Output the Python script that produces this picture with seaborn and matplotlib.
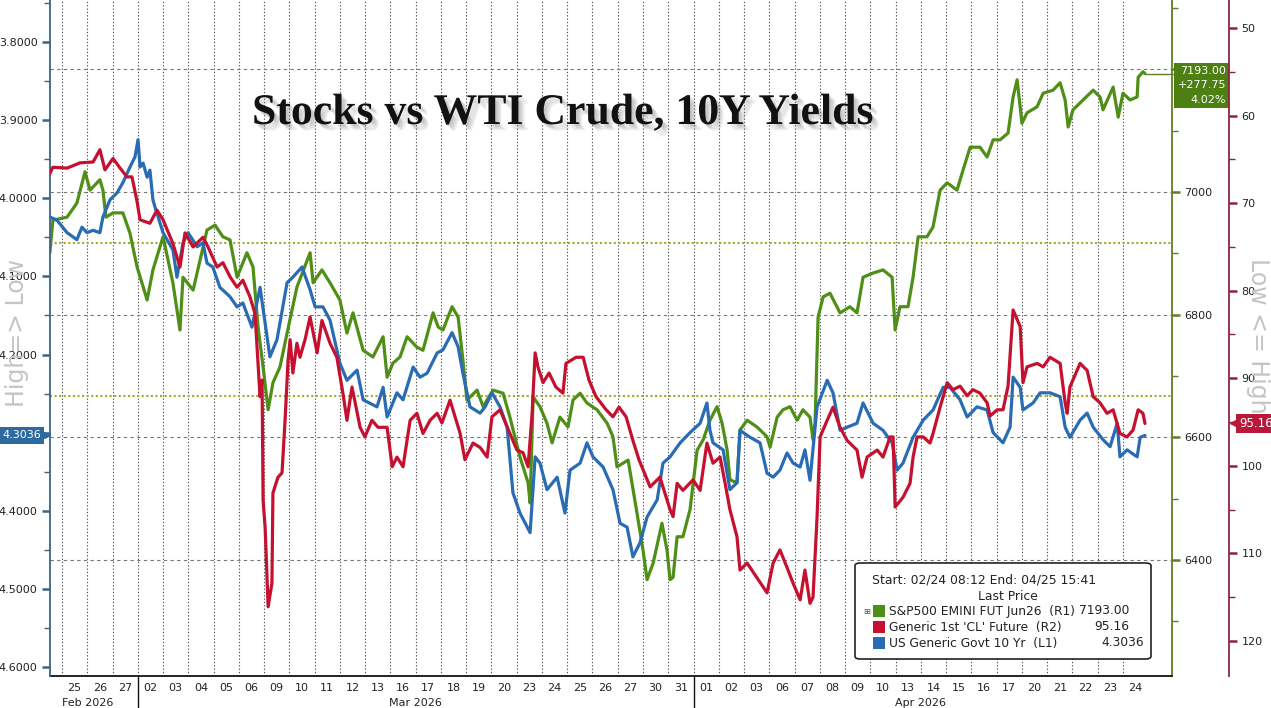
import numpy as np
import matplotlib
matplotlib.use("Agg")
import matplotlib.pyplot as plt
import matplotlib.patheffects as pe
import matplotlib.transforms as mtrans
from matplotlib.patches import FancyBboxPatch, Rectangle
from matplotlib.ticker import MultipleLocator, FuncFormatter
import seaborn as sns

# --- sessions on the x axis (index 0 = Feb 25; Feb 24 is a partial first session at index -1) ---
day_labels = ["25", "26", "27",
              "02", "03", "04", "05", "06", "09", "10", "11", "12", "13", "16", "17", "18", "19", "20",
              "23", "24", "25", "26", "27", "30", "31",
              "01", "02", "03", "06", "07", "08", "09", "10", "13", "14", "15", "16", "17", "20", "21",
              "22", "23", "24"]
month_names = ["Feb 2026", "Mar 2026", "Apr 2026"]
month_first = [-1, 3, 25]
month_last = [2, 24, 42]

# --- S&P500 EMINI FUT Jun26 (R1) ---
sp_t = [-0.48, -0.36, 0.2, 0.59, 0.91, 1.11, 1.5, 1.62, 1.74, 2.02, 2.41, 2.69, 2.97, 3.37, 3.6, 4.0,
        4.39, 4.67, 4.79, 5.19, 5.74, 6.06, 6.37, 6.65, 6.93, 7.32, 7.56, 7.76, 7.96, 8.16, 8.35, 8.63,
        8.91, 9.3, 9.82, 9.94, 10.29, 10.61, 11.0, 11.28, 11.52, 11.92, 12.31, 12.71, 12.87, 13.1, 13.38,
        13.66, 14.05, 14.29, 14.69, 14.89, 15.08, 15.44, 15.68, 15.87, 16.03, 16.43, 16.67, 17.06, 17.46,
        17.73, 18.13, 18.45, 18.53, 18.65, 18.92, 19.2, 19.4, 19.71, 20.03, 20.23, 20.51, 20.78, 21.18,
        21.58, 21.81, 21.97, 22.21, 22.41, 22.76, 23.0, 23.16, 23.4, 23.75, 23.95, 24.07, 24.19, 24.35,
        24.58, 24.86, 25.14, 25.38, 25.65, 25.93, 26.13, 26.33, 26.44, 26.72, 26.84, 27.12, 27.51, 27.91,
        28.03, 28.31, 28.54, 28.82, 29.1, 29.33, 29.61, 29.73, 29.81, 29.93, 30.13, 30.4, 30.8, 31.19,
        31.47, 31.71, 32.11, 32.5, 32.86, 32.98, 33.17, 33.49, 33.69, 33.89, 34.24, 34.48, 34.76, 35.04,
        35.43, 35.67, 35.95, 36.34, 36.62, 36.86, 37.13, 37.45, 37.65, 37.81, 38.0, 38.2, 38.6, 38.84,
        39.23, 39.51, 39.71, 39.83, 40.02, 40.42, 40.82, 41.09, 41.21, 41.61, 41.81, 42.0, 42.28, 42.56,
        42.6, 42.79, 42.87]
sp_val = [6901, 6954, 6959, 6982, 7033, 7003, 7020, 7003, 6959, 6966, 6966, 6933, 6878, 6824, 6873, 6927,
          6852, 6775, 6861, 6840, 6938, 6946, 6927, 6922, 6861, 6901, 6878, 6780, 6715, 6645, 6689, 6715,
          6770, 6845, 6901, 6852, 6873, 6852, 6824, 6770, 6803, 6742, 6731, 6764, 6698, 6721, 6731,
          6764, 6747, 6742, 6803, 6780, 6775, 6813, 6796, 6726, 6661, 6677, 6650, 6677, 6672,
          6633, 6568, 6526, 6493, 6666, 6650, 6623, 6591, 6633, 6617, 6661, 6672, 6656, 6645,
          6623, 6601, 6552, 6558, 6563, 6477, 6416, 6368, 6395, 6460, 6416, 6368, 6372, 6438,
          6438, 6482, 6579, 6596, 6628, 6650, 6623, 6579, 6531, 6526, 6612, 6628, 6617, 6601,
          6584, 6633, 6645, 6650, 6628, 6645, 6633, 6596, 6623, 6796, 6829, 6835, 6803, 6813,
          6803, 6861, 6868, 6873, 6861, 6775, 6813, 6813, 6861, 6927, 6927, 6943, 7003, 7015,
          7003, 7036, 7073, 7073, 7057, 7085, 7085, 7096, 7155, 7183, 7112, 7129, 7139, 7161,
          7166, 7178, 7150, 7106, 7134, 7150, 7166, 7155, 7134, 7171, 7122, 7161, 7150, 7155,
          7187, 7196, 7193]
sp_change = "+277.75"
sp_change_pct = "4.02%"

# --- Generic 1st 'CL' Future (R2) ---
cl_t = [-0.48, -0.36, 0.2, 0.71, 1.23, 1.5, 1.7, 2.02, 2.3, 2.57, 2.77, 2.97, 3.09, 3.48, 3.76, 4.0,
        4.39, 4.67, 4.87, 5.19, 5.58, 5.78, 6.14, 6.37, 6.65, 6.93, 7.16, 7.44, 7.64, 7.84, 7.92, 7.96,
        8.04, 8.16, 8.31, 8.35, 8.55, 8.71, 8.83, 8.95, 9.03, 9.14, 9.3, 9.42, 9.62, 9.82, 10.1, 10.29,
        10.61, 10.88, 11.12, 11.28, 11.48, 11.8, 11.99, 12.27, 12.51, 12.87, 13.07, 13.26, 13.5, 13.78,
        14.05, 14.29, 14.57, 14.85, 15.04, 15.36, 15.56, 15.76, 15.95, 16.27, 16.55, 16.83, 17.02, 17.34,
        17.73, 18.01, 18.25, 18.45, 18.61, 18.73, 18.84, 19.04, 19.28, 19.55, 19.83, 19.95, 20.35, 20.63,
        20.86, 21.14, 21.54, 21.81, 22.05, 22.33, 22.6, 22.84, 23.28, 23.67, 24.07, 24.19, 24.35, 24.58,
        24.98, 25.26, 25.53, 25.77, 26.05, 26.25, 26.44, 26.72, 26.84, 27.12, 27.91, 28.15, 28.42, 28.7,
        28.94, 29.22, 29.41, 29.61, 29.73, 29.89, 30.01, 30.29, 30.52, 30.8, 31.08, 31.47, 31.67, 31.87,
        32.27, 32.5, 32.78, 32.9, 32.98, 33.29, 33.57, 33.69, 33.85, 34.09, 34.36, 34.48, 34.76, 35.04,
        35.27, 35.55, 35.83, 36.06, 36.34, 36.62, 36.74, 37.02, 37.25, 37.45, 37.65, 37.93, 38.04, 38.2,
        38.6, 38.84, 39.11, 39.51, 39.71, 39.79, 39.9, 40.3, 40.58, 40.82, 41.09, 41.37, 41.61, 41.88,
        42.16, 42.4, 42.6, 42.79, 42.87]
cl_val = [66.6, 65.9, 66.0, 65.4, 65.3, 63.9, 66.2, 64.9, 66.0, 67.0, 67.0, 69.8, 71.9, 72.3, 70.8, 71.9,
          74.6, 77.3, 73.4, 75.0, 73.9, 75.0, 77.3, 76.8, 78.4, 79.6, 78.8, 80.7, 82.6, 92.1, 90.2, 103.9,
          107.0, 116.1, 113.4, 103.1, 101.3, 100.8, 94.8, 87.9, 85.6, 89.4, 86.0, 87.6, 85.6, 83.0, 87.1, 83.4,
          86.0, 87.6, 91.7, 94.8, 91.0, 95.6, 96.7, 94.8, 95.6, 95.6, 100.1, 99.0, 100.1, 94.8,
          94.0, 96.3, 94.8, 94.0, 95.1, 92.5, 94.4, 96.3, 99.3, 97.4, 97.9, 99.0, 94.4, 93.6,
          96.3, 98.2, 98.5, 100.1, 94.0, 87.1, 88.7, 90.5, 89.4, 91.0, 91.7, 88.3, 87.6, 87.6,
          90.2, 92.1, 93.6, 94.4, 93.3, 94.4, 97.1, 99.3, 102.4, 101.3, 105.0, 105.8, 102.0, 102.8,
          101.6, 102.8, 97.4, 99.7, 99.0, 102.0, 105.0, 108.1, 111.9, 111.1, 114.5, 111.1, 109.6, 111.6,
          113.4, 115.3, 111.9, 115.7, 115.0, 105.8, 96.7, 94.8, 93.3, 95.6, 97.1, 98.2, 101.3, 99.0,
          98.2, 99.0, 96.7, 96.7, 104.7, 103.6, 102.0, 99.0, 96.7, 96.7, 97.4, 96.3, 93.3, 90.5,
          91.3, 90.9, 92.0, 91.3, 91.7, 92.8, 94.3, 93.6, 93.6, 90.9, 82.2, 84.1, 90.5, 88.7,
          88.3, 88.7, 87.6, 88.3, 92.8, 94.0, 91.0, 88.3, 89.1, 92.1, 92.8, 94.0, 93.6, 96.3,
          96.7, 95.9, 93.6, 94.0, 95.16]

# --- US Generic Govt 10 Yr (L1) ---
ty_t = [-0.48, -0.2, 0.2, 0.59, 0.79, 0.99, 1.23, 1.5, 1.62, 1.9, 2.18, 2.41, 2.69, 2.89, 3.01, 3.09,
        3.21, 3.37, 3.48, 3.6, 3.68, 4.0, 4.39, 4.55, 4.79, 4.99, 5.35, 5.58, 5.74, 5.97, 6.25, 6.65,
        6.93, 7.16, 7.52, 7.84, 8.23, 8.51, 8.91, 9.14, 9.5, 9.82, 10.02, 10.33, 10.61, 11.0, 11.28,
        11.68, 11.92, 12.47, 12.71, 12.87, 13.26, 13.5, 13.9, 14.17, 14.45, 14.85, 15.08, 15.44, 15.68,
        15.87, 16.15, 16.55, 16.75, 17.02, 17.34, 17.62, 17.85, 18.13, 18.53, 18.73, 18.92, 19.2, 19.6,
        19.91, 20.11, 20.51, 20.78, 21.02, 21.42, 21.81, 22.09, 22.37, 22.6, 22.88, 23.16, 23.56, 23.79,
        24.07, 24.47, 24.86, 25.26, 25.53, 25.65, 25.77, 26.17, 26.44, 26.72, 26.84, 27.24, 27.63, 27.91,
        28.15, 28.42, 28.7, 28.94, 29.22, 29.41, 29.61, 29.89, 30.29, 30.52, 30.8, 31.08, 31.47, 31.71,
        32.11, 32.5, 32.86, 33.06, 33.29, 33.69, 34.09, 34.48, 34.88, 35.15, 35.55, 35.83, 36.22, 36.62,
        36.86, 37.25, 37.53, 37.65, 37.93, 38.04, 38.44, 38.72, 39.11, 39.51, 39.71, 39.9, 40.3, 40.58,
        40.82, 41.21, 41.49, 41.77, 41.88, 42.16, 42.56, 42.68, 42.87]
ty_val = [4.024, 4.028, 4.044, 4.053, 4.037, 4.044, 4.041, 4.044, 4.024, 4.002, 3.993, 3.980, 3.960, 3.947,
          3.925, 3.960, 3.955, 3.973, 3.964, 4.002, 4.011, 4.044, 4.066, 4.101, 4.057, 4.044, 4.062, 4.057,
          4.083, 4.088, 4.114, 4.126, 4.139, 4.134, 4.165, 4.114, 4.203, 4.181, 4.108, 4.101, 4.088, 4.117,
          4.139, 4.139, 4.156, 4.211, 4.233, 4.220, 4.258, 4.267, 4.242, 4.280, 4.249, 4.258, 4.216, 4.229,
          4.224, 4.198, 4.194, 4.172, 4.190, 4.224, 4.267, 4.275, 4.267, 4.249, 4.267, 4.293, 4.377, 4.403,
          4.428, 4.331, 4.339, 4.373, 4.357, 4.403, 4.348, 4.339, 4.313, 4.331, 4.344, 4.373, 4.416, 4.421,
          4.459, 4.441, 4.408, 4.386, 4.339, 4.331, 4.313, 4.300, 4.288, 4.262, 4.297, 4.313, 4.322, 4.373,
          4.364, 4.297, 4.306, 4.313, 4.352, 4.357, 4.348, 4.326, 4.339, 4.344, 4.322, 4.361, 4.267, 4.233,
          4.249, 4.297, 4.293, 4.288, 4.262, 4.288, 4.297, 4.313, 4.348, 4.339, 4.306, 4.284, 4.271, 4.242,
          4.242, 4.258, 4.280, 4.267, 4.271, 4.300, 4.313, 4.293, 4.229, 4.242, 4.271, 4.262, 4.249, 4.249,
          4.254, 4.293, 4.306, 4.284, 4.275, 4.293, 4.309, 4.318, 4.288, 4.331, 4.322, 4.331, 4.306, 4.3036]

# dotted reference levels on the S&P scale
sp_ref_levels = [6917, 6667]

title = "Stocks vs WTI Crude, 10Y Yields"
legend_head = "Start: 02/24 08:12 End: 04/25 15:41"
legend_names = ["S&P500 EMINI FUT Jun26  (R1)", "Generic 1st 'CL' Future  (R2)", "US Generic Govt 10 Yr  (L1)"]

# === colours ===
GREEN, RED, BLUE = "#4f8f17", "#c5102f", "#2a6cb4"
GREEN_AX, RED_AX, BLUE_AX = "#5f7f22", "#8c2342", "#3a6587"
GREEN_TAG, RED_TAG, BLUE_TAG = "#4d7f12", "#b8193b", "#2d6aa0"

sns.set_theme(style="white")
plt.rcParams["font.family"] = ["DejaVu Sans"]

W, H = 1271, 708
fig = plt.figure(figsize=(W / 100, H / 100), dpi=100)
fig.patch.set_facecolor("white")
L, R, B = 50, 1172, 676
CL_POS = 1 + 57 / (R - L)


def fx(x):
    return x / W


def fy(y):
    return 1 - y / H


ax = fig.add_axes([fx(L), fy(B), (R - L) / W, B / H])   # S&P, right scale
ax_ty = ax.twinx()                                      # yields, left scale
ax_cl = ax.twinx()                                      # crude, outer right scale
ax.yaxis.tick_right()
ax_ty.yaxis.tick_left()
ax_cl.yaxis.tick_right()

# === lines ===
sns.lineplot(x=sp_t, y=sp_val, ax=ax, color=GREEN, linewidth=2.3, estimator=None, sort=False, zorder=3)
sns.lineplot(x=ty_t, y=ty_val, ax=ax_ty, color=BLUE, linewidth=2.3, estimator=None, sort=False, zorder=3)
sns.lineplot(x=cl_t, y=cl_val, ax=ax_cl, color=RED, linewidth=2.3, estimator=None, sort=False, zorder=3)
for a in (ax, ax_ty, ax_cl):
    a.set_xlabel("")
    a.set_ylabel("")

ax.set_xlim(-0.475, 43.94)
ax.set_ylim(6211, 7313)
ax_ty.set_ylim(4.6115, 3.7462)
ax_cl.set_ylim(124.0, 46.8)

# === grid ===
n_days = len(day_labels)
for i in range(n_days):
    ax.axvline(i, color="#555555", lw=0.8, ls=(0, (1.2, 1.8)), zorder=0.5)
for v in range(6400, 7201, 200):
    ax.axhline(v, color="#777777", lw=0.8, ls=(0, (3, 3)), zorder=0.5)
for v in sp_ref_levels:
    ax.axhline(v, color="#a8a828", lw=1.5, ls=(0, (1, 1.2)), zorder=0.6)

# green last-price connector to the axis
ax.plot([sp_t[-1], ax.get_xlim()[1]], [sp_val[-1]] * 2, color=GREEN_AX, lw=1, zorder=2)

# === spines ===
for a in (ax, ax_ty, ax_cl):
    for s in a.spines.values():
        s.set_visible(False)
ax.spines["bottom"].set_visible(True)
ax.spines["bottom"].set_color("#111111")
ax.spines["right"].set_visible(True)
ax.spines["right"].set_color(GREEN_AX)
ax_ty.spines["left"].set_visible(True)
ax_ty.spines["left"].set_color(BLUE_AX)
ax_cl.spines["right"].set_visible(True)
ax_cl.spines["right"].set_color(RED_AX)
ax_cl.spines["right"].set_position(("axes", CL_POS))
for s in (ax.spines["right"], ax_ty.spines["left"], ax_cl.spines["right"], ax.spines["bottom"]):
    s.set_linewidth(1.3)

# === y ticks (labels under the last-price tags are left blank) ===
ax.yaxis.set_major_locator(MultipleLocator(200))
ax.yaxis.set_minor_locator(MultipleLocator(100))
ax.yaxis.set_major_formatter(FuncFormatter(lambda v, p: "" if abs(v - sp_val[-1]) < 60 else f"{v:.0f}"))
ax_ty.yaxis.set_major_locator(MultipleLocator(0.1))
ax_ty.yaxis.set_minor_locator(MultipleLocator(0.05))
ax_ty.yaxis.set_major_formatter(FuncFormatter(lambda v, p: "" if abs(v - ty_val[-1]) < 0.02 else f"{v:.4f}"))
ax_cl.yaxis.set_major_locator(MultipleLocator(10))
ax_cl.yaxis.set_minor_locator(MultipleLocator(5))
for a, c in ((ax, GREEN_AX), (ax_ty, BLUE_AX), (ax_cl, RED_AX)):
    a.tick_params(axis="y", which="major", direction="out", length=6, width=1.8, color=c,
                  labelsize=8, labelcolor="#222222", pad=3)
    a.tick_params(axis="y", which="minor", direction="out", length=4, width=1, color=c)

# === x ticks ===
ax.set_xticks(np.arange(n_days) + 0.5)
ax.set_xticklabels(day_labels)
ax.tick_params(axis="x", length=0, labelsize=8, labelcolor="#222222", pad=5)
xblend = mtrans.blended_transform_factory(ax.transData, ax.transAxes)
for name, a, b in zip(month_names, month_first, month_last):
    ax.text((a + b) / 2 + 0.5, -27 / B, name, transform=xblend, ha="center", va="center",
            fontsize=8, color="#222222")
for a in month_first[1:]:
    ax.plot([a, a], [0, -32 / B], transform=xblend, color="#111111", lw=1, clip_on=False)

# === last price tags ===
tag_box = dict(boxstyle="square,pad=0.28", ec="none")
sp_tr = mtrans.blended_transform_factory(ax.transAxes, ax.transData)
cl_tr = mtrans.blended_transform_factory(ax_cl.transAxes, ax_cl.transData)
ty_tr = mtrans.blended_transform_factory(ax_ty.transAxes, ax_ty.transData)
ax.annotate(f"{sp_val[-1]:.2f}\n{sp_change}\n{sp_change_pct}", xy=(1, sp_val[-1]), xycoords=sp_tr,
            xytext=(54, 8), textcoords="offset pixels", ha="right", va="top", fontsize=8,
            color="white", linespacing=1.6, bbox={**tag_box, "fc": GREEN_TAG}, zorder=10,
            annotation_clip=False)
ax.plot([1], [sp_val[-1]], marker="<", ms=5, color=GREEN_TAG, clip_on=False, zorder=10,
        transform=mtrans.offset_copy(sp_tr, fig=fig, x=4, y=0, units="dots"))
ax_cl.annotate(f"{cl_val[-1]:.2f}", xy=(CL_POS, cl_val[-1]), xycoords=cl_tr,
               xytext=(10, 0), textcoords="offset pixels", ha="left", va="center", fontsize=8.5,
               color="white", bbox={**tag_box, "fc": RED_TAG}, zorder=10, annotation_clip=False)
ax_cl.plot([CL_POS], [cl_val[-1]], marker="<", ms=5, color=RED_TAG, clip_on=False, zorder=10,
           transform=mtrans.offset_copy(cl_tr, fig=fig, x=4, y=0, units="dots"))
ax_ty.annotate(f"{ty_val[-1]:.4f}", xy=(0, ty_val[-1]), xycoords=ty_tr,
               xytext=(-9, 0), textcoords="offset pixels", ha="right", va="center", fontsize=8,
               color="white", bbox={**tag_box, "fc": BLUE_TAG}, zorder=10, annotation_clip=False)
ax_ty.plot([0], [ty_val[-1]], marker=">", ms=5, color=BLUE_TAG, clip_on=False, zorder=10,
           transform=mtrans.offset_copy(ty_tr, fig=fig, x=-3, y=0, units="dots"))

# === title and side captions ===
shadow = [pe.SimplePatchShadow(offset=(o, -o), shadow_rgbFace="#777777", alpha=0.12) for o in (1.5, 2.5, 3.5, 4.5)]
fig.text(fx(252), fy(124), title, ha="left", va="baseline", fontsize=31.5,
         family="Liberation Serif", weight="bold", color="#111111",
         path_effects=shadow + [pe.Normal()])
fig.text(fx(17), fy(333), "High=> Low", rotation=90, ha="center", va="center",
         fontsize=17, color="#c4c4c4")
fig.text(fx(1258), fy(336), "Low <= High", rotation=270, ha="center", va="center",
         fontsize=17, color="#c4c4c4")

# === legend box ===
fig.patches.append(FancyBboxPatch((fx(855), fy(659)), (1151 - 855) / W, (659 - 563) / H,
                                  boxstyle="round,pad=0,rounding_size=0.004", transform=fig.transFigure,
                                  fc="white", ec="#222222", lw=1.2, zorder=5))
fig.text(fx(872), fy(580), legend_head, ha="left", va="center", fontsize=8.9, color="#222222", zorder=6)
fig.text(fx(1008), fy(596), "Last Price", ha="center", va="center", fontsize=8.9, color="#222222", zorder=6)
fig.text(fx(867), fy(611), "\u229e", ha="center", va="center", fontsize=6, color="#555555", zorder=6)
legend_values = [f"{sp_val[-1]:.2f}", f"{cl_val[-1]:.2f}", f"{ty_val[-1]:.4f}"]
legend_right = [1129, 1129, 1144]
for k, (name, val, c) in enumerate(zip(legend_names, legend_values, (GREEN, RED, BLUE))):
    yy = 611 + 16 * k
    fig.patches.append(Rectangle((fx(873), fy(yy + 6)), 12 / W, 12 / H, transform=fig.transFigure,
                                 fc=c, ec="none", zorder=6))
    fig.text(fx(889), fy(yy), name, ha="left", va="center", fontsize=8.8, color="#222222", zorder=6)
    fig.text(fx(legend_right[k]), fy(yy), val, ha="right", va="center", fontsize=8.8,
             color="#222222", zorder=6)

fig.savefig("out.png", dpi=100, facecolor="white")
plt.close(fig)
